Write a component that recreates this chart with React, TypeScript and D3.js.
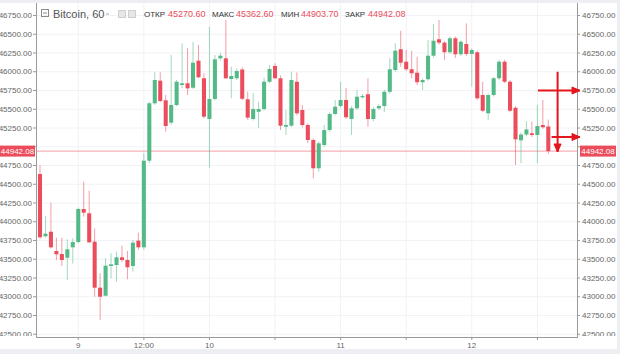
import React from 'react';
import * as d3 from 'd3';

// hourly candles, first one is the 8th at 17:00 (hour -7 from the 9th 00:00)
const startHour = -7;

const opens = [
  44637, 43806, 43867, 43610, 43570, 43520, 43659, 43730, 44170, 44113,
  43734, 43121, 43014, 43410, 43423, 43526, 43490, 43410, 43748, 43659,
  44814, 45579, 45881, 45619, 45321, 45557, 45823, 45846, 45787, 46147,
  45913, 45370, 45637, 46179, 46179, 45903, 45913, 46030, 45633, 45370,
  45467, 45503, 45867, 46077, 45913, 45267, 45281, 45867, 45490, 45290,
  45090, 44713, 45023, 45223, 45437, 45543, 45623, 45370, 45513, 45660,
  45700, 45370, 45513, 45543, 45733, 46023, 46300, 46134, 46033, 45987,
  45860, 45900, 46214, 46433, 46388, 46260, 46446, 46233, 46370, 46237,
  46260, 45690, 45446, 45690, 45913, 46134, 45867, 45520, 45086, 45163,
  45180, 45157, 45290, 45270.6,
];
const highs = [
  44757, 44077, 44254, 43787, 43787, 43766, 43779, 44190, 44534, 44414,
  43912, 43313, 43513, 43580, 43601, 43681, 43610, 43757, 43854, 44913,
  45600, 45993, 45993, 45690, 46223, 45890, 46379, 46313, 46401, 46357,
  45980, 46600, 46223, 46254, 46690, 46067, 46046, 46060, 45734, 45717,
  45600, 45920, 46090, 46113, 45950, 45490, 46001, 45990, 45557, 45310,
  45110, 45070, 45290, 45460, 45623, 45867, 45783, 45540, 45757, 45700,
  45913, 45530, 45570, 45760, 46180, 46380, 46547, 46290, 46280, 46200,
  45910, 46423, 46637, 46690, 46410, 46470, 46470, 46420, 46646, 46310,
  46280, 45867, 45710, 45930, 46160, 46160, 45890, 45540, 45190, 45340,
  45340, 45557, 45623, 45362.6,
];
const lows = [
  43770, 43790, 43646, 43490, 43410, 43223, 43443, 43710, 44067, 43713,
  43000, 42690, 43000, 43246, 43201, 43460, 43233, 43334, 43625, 43625,
  44780, 45560, 45593, 45201, 45290, 45540, 45779, 45690, 45770, 45913,
  45379, 44720, 45620, 46150, 45903, 45646, 45890, 45623, 45360, 45350,
  45250, 45480, 45850, 45900, 45223, 45157, 45260, 45420, 45260, 45050,
  44580, 44667, 45000, 45200, 45420, 45520, 45370, 45157, 45490, 45640,
  45267, 45340, 45490, 45463, 45710, 46000, 46067, 46010, 45913, 45823,
  45757, 45880, 46190, 46360, 46157, 46240, 46183, 46210, 46210, 45800,
  45620, 45460, 45357, 45670, 45890, 45850, 45460, 44757, 44780, 45140,
  45130, 44780, 45240, 44903.7,
];
const closes = [
  43793, 43841, 43659, 43566, 43490, 43633, 43730, 44170, 44121, 43726,
  43121, 43000, 43414, 43432, 43526, 43490, 43393, 43721, 43659, 44814,
  45579, 45890, 45610, 45277, 45557, 45867, 45846, 45779, 46121, 45926,
  45401, 45637, 46166, 46214, 45913, 45943, 46010, 45640, 45388, 45503,
  45503, 45867, 46037, 45913, 45281, 45290, 45890, 45446, 45290, 45090,
  44713, 45046, 45223, 45437, 45534, 45623, 45393, 45513, 45667, 45677,
  45370, 45503, 45543, 45733, 46033, 46281, 46121, 46033, 45980, 45860,
  45890, 46214, 46414, 46388, 46260, 46446, 46233, 46400, 46237, 46290,
  45646, 45480, 45690, 45913, 46134, 45867, 45480, 45099, 45163, 45230,
  45157, 45277, 45260, 44942.08,
];

const priceTicks = d3.range(42500, 46751, 250);
const timeTicks = [0, 12, 24, 36, 48, 60, 72, 84];
const timeLabels = ['9', '12:00', '10', '', '11', '', '12', ''];

const legendNames = ['ОТКР', 'МАКС', 'МИН', 'ЗАКР'];
const legendValues = ['45270.60', '45362.60', '44903.70', '44942.08'];
const lastPrice = 44942.08;

// hand drawn red arrows, [hour, price]
const arrowStarts = [[87.7, 46000], [84.1, 45750], [86.6, 45130]];
const arrowEnds = [[87.7, 44930], [91.8, 45750], [91.8, 45130]];

const W = 620;
const H = 354;
const plot = { left: 36, right: 577, top: 3, bottom: 337 };
const UP = '#53b987';
const DOWN = '#eb4d5c';
const font = '"Liberation Sans", Arial, sans-serif';

const x = d3.scaleLinear().domain([startHour, startHour + opens.length - 1]).range([40, 548.3]);
const y = d3.scaleLinear().domain([42500, 46750]).range([334.25, 15.5]);
const fmt = d3.format('.2f');

const candles = opens.map((o, i) => ({
  t: startHour + i, o, h: highs[i], l: lows[i], c: closes[i],
}));

const bodyW = (x(1) - x(0)) * 0.74;

const arrowHead = (x1, y1, x2, y2, len = 8, half = 3.5) => {
  const a = Math.atan2(y2 - y1, x2 - x1);
  const bx = x2 - len * Math.cos(a);
  const by = y2 - len * Math.sin(a);
  const px = -Math.sin(a) * half;
  const py = Math.cos(a) * half;
  return `M${x2},${y2}L${bx + px},${by + py}L${bx - px},${by - py}Z`;
};

export default function App() {
  const yLast = y(lastPrice);
  // the last price label hides the tick labels it sits on
  const shownTicks = priceTicks.filter((p) => Math.abs(y(p) - yLast) > 9);
  return (
    <div style={{ position: 'fixed', left: 0, top: 0 }}>
      <svg width={W} height={H} style={{ display: 'block', fontFamily: font }}>
        <defs>
          <clipPath id="plot-clip">
            <rect x={plot.left} y={plot.top} width={plot.right - plot.left} height={plot.bottom - plot.top} />
          </clipPath>
          <clipPath id="label-clip">
            <rect x={0} y={plot.top} width={W} height={plot.bottom - plot.top - 1} />
          </clipPath>
        </defs>
        <rect width={W} height={H} fill="#eceef2" />
        <rect x={0} y={3} width={617} height={346} fill="#ffffff" />

        {/* grid */}
        <g clipPath="url(#plot-clip)">
          {priceTicks.map((p) => (
            <line key={'h' + p} x1={plot.left} x2={plot.right} y1={y(p)} y2={y(p)} stroke="#f0f2f5" />
          ))}
          {timeTicks.map((t) => (
            <line key={'v' + t} x1={x(t)} x2={x(t)} y1={plot.top} y2={plot.bottom} stroke="#f0f2f5" />
          ))}
          <line x1={plot.left} x2={plot.right} y1={yLast} y2={yLast} stroke={DOWN} strokeOpacity={0.55} />

          {candles.map((d) => {
            const col = d.c >= d.o ? UP : DOWN;
            const top = y(Math.max(d.o, d.c));
            const bot = y(Math.min(d.o, d.c));
            return (
              <g key={d.t}>
                <line x1={x(d.t)} x2={x(d.t)} y1={y(d.h)} y2={y(d.l)} stroke={col} strokeOpacity={0.55} />
                <rect x={x(d.t) - bodyW / 2} y={top} width={bodyW} height={Math.max(1, bot - top)} fill={col} />
              </g>
            );
          })}
        </g>

        {/* axes */}
        <g stroke="#9a9a9a" fill="none">
          <line x1={plot.left + 0.5} x2={plot.left + 0.5} y1={plot.top} y2={plot.bottom} />
          <line x1={plot.right + 0.5} x2={plot.right + 0.5} y1={plot.top} y2={plot.bottom} />
          <line x1={plot.left} x2={plot.right + 1} y1={plot.bottom + 0.5} y2={plot.bottom + 0.5} />
          {priceTicks.map((p) => (
            <g key={'t' + p}>
              <line x1={plot.left - 3} x2={plot.left} y1={y(p)} y2={y(p)} />
              <line x1={plot.right} x2={plot.right + 3} y1={y(p)} y2={y(p)} />
            </g>
          ))}
          {timeTicks.map((t) => (
            <line key={'xt' + t} x1={x(t)} x2={x(t)} y1={plot.bottom} y2={plot.bottom + 3} />
          ))}
        </g>
        <g clipPath="url(#label-clip)" fontSize={8} fill="#666">
          {shownTicks.map((p) => (
            <g key={'l' + p}>
              <text x={plot.left - 4} y={y(p)} dy="0.33em" textAnchor="end">{fmt(p)}</text>
              <text x={plot.right + 5} y={y(p)} dy="0.33em">{fmt(p)}</text>
            </g>
          ))}
        </g>
        <g fontSize={8} fill="#666" textAnchor="middle">
          {timeTicks.map((t, i) => (
            <text key={'xl' + t} x={x(t)} y={plot.bottom + 11}>{timeLabels[i]}</text>
          ))}
        </g>

        {/* last price labels */}
        <rect x={0} y={yLast - 5.5} width={plot.left - 1} height={11} fill={DOWN} />
        <text x={(plot.left - 1) / 2} y={yLast} dy="0.33em" fontSize={8} fill="#fff" textAnchor="middle">{fmt(lastPrice)}</text>
        <rect x={plot.right + 3} y={yLast - 5.5} width={36} height={11} fill={DOWN} />
        <text x={plot.right + 21} y={yLast} dy="0.33em" fontSize={8} fill="#fff" textAnchor="middle">{fmt(lastPrice)}</text>

        {/* arrows */}
        <g stroke="#e3161d" strokeWidth={2} fill="#e3161d">
          {arrowStarts.map((s, i) => {
            const x1 = x(s[0]), y1 = y(s[1]);
            const x2 = x(arrowEnds[i][0]), y2 = y(arrowEnds[i][1]);
            return (
              <g key={'a' + i}>
                <line x1={x1} y1={y1} x2={x2} y2={y2} />
                <path d={arrowHead(x1, y1, x2, y2)} strokeWidth={1} />
              </g>
            );
          })}
        </g>

        {/* legend */}
        <rect x={41.5} y={9.5} width={7} height={7} fill="none" stroke="#8a8a8a" />
        <line x1={43} x2={47} y1={13} y2={13} stroke="#8a8a8a" />
        <text x={53} y={17.5} fontSize={11} fill="#555">Bitcoin, 60</text>
        <line x1={106} x2={109} y1={14} y2={14} stroke="#aaa" />
        <rect x={118.5} y={10.5} width={7} height={7} fill="#e6e6e6" stroke="#cfcfcf" />
        <rect x={128.5} y={10.5} width={7} height={7} fill="#e6e6e6" stroke="#cfcfcf" />
        {legendNames.map((n, i) => {
          const lx = [144, 212, 281, 345][i];
          const vx = [168, 236, 301, 368][i];
          return (
            <g key={n}>
              <text x={lx} y={17} fontSize={8} fill="#333">{n}</text>
              <text x={vx} y={17} fontSize={9} fill={DOWN}>{legendValues[i]}</text>
            </g>
          );
        })}
      </svg>
    </div>
  );
}
